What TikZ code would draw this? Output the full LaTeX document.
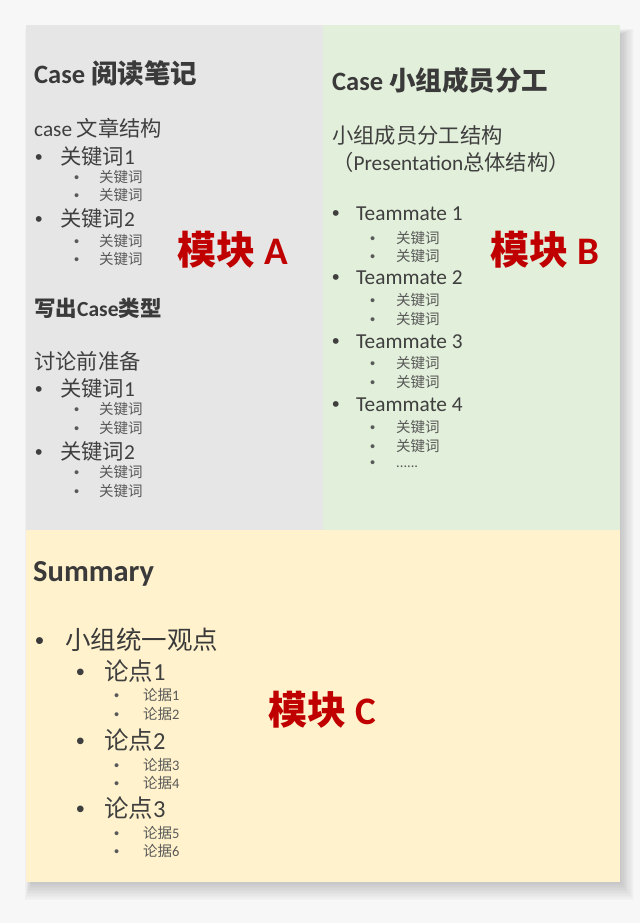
\documentclass[tikz,border=0pt]{standalone}
\usepackage{fontspec}
\setmainfont{Noto Sans CJK SC}
\newfontfamily\carl{Carlito}
\newfontfamily\arl{Liberation Sans}
\definecolor{bgc}{HTML}{F7F7F7}
\definecolor{grayp}{HTML}{E7E6E6}
\definecolor{greenp}{HTML}{E2EFDA}
\definecolor{yellowp}{HTML}{FFF2CC}
\definecolor{headc}{HTML}{3A3A3A}
\definecolor{txtc}{HTML}{3F3F3F}
\definecolor{subc}{HTML}{595959}
\definecolor{redc}{HTML}{C00000}
\tikzset{
  txt/.style={anchor=west, inner sep=0pt, text=txtc},
  hone/.style={txt, text=headc, font=\bfseries\fontsize{26.5}{28}\selectfont},
  htwo/.style={txt, text=headc, font=\bfseries\fontsize{21.5}{24}\selectfont},
  lone/.style={txt, font=\fontsize{21.3}{24}\selectfont},
  ltwo/.style={txt, text=subc, font=\fontsize{14.5}{16}\selectfont},
  cone/.style={txt, text=headc, font=\fontsize{25.5}{28}\selectfont},
  ctwo/.style={txt, font=\fontsize{24.5}{27}\selectfont},
  cthree/.style={txt, text=subc, font=\fontsize{14.5}{16}\selectfont},
  module/.style={txt, text=redc, font=\bfseries\fontsize{39}{42}\selectfont},
}
\newcommand{\bl}[2]{\makebox[#1][l]{\arl\textbullet}#2}
\begin{document}
\begin{tikzpicture}[x=1pt,y=-1pt]
\useasboundingbox (0,0) rectangle (640,923);
\fill[bgc] (0,0) rectangle (640,923);
% shadow
\foreach \i in {1,...,12}{
  \fill[black,opacity=0.014] (26+6-\i*0.6, 25+10-\i*0.5) rectangle (620+\i*1.2, 882+\i*1.5);
}
% panels
\fill[grayp] (26,25) rectangle (323,530);
\fill[greenp] (323,25) rectangle (620,530);
\fill[yellowp] (26,530) rectangle (620,882);

% Panel A
\node[hone] (a0) at (34,73) {{\carl Case} 阅读笔记};
\node[lone] (a1) at (34,128) {{\carl case} 文章结构};
\node[lone] (a2) at (35,156) {\bl{25pt}{关键词{\carl 1}}};
\node[ltwo] (a3) at (74,177) {\bl{25pt}{关键词}};
\node[ltwo] (a4) at (74,195) {\bl{25pt}{关键词}};
\node[lone] (a5) at (35,218) {\bl{25pt}{关键词{\carl 2}}};
\node[ltwo] (a6) at (74,241) {\bl{25pt}{关键词}};
\node[ltwo] (a7) at (74,259) {\bl{25pt}{关键词}};
\node[htwo] (a8) at (34,308) {写出{\carl Case}类型};
\node[lone] (a9) at (34,361) {讨论前准备};
\node[lone] (a10) at (35,388) {\bl{25pt}{关键词{\carl 1}}};
\node[ltwo] (a11) at (74,409) {\bl{25pt}{关键词}};
\node[ltwo] (a12) at (74,428) {\bl{25pt}{关键词}};
\node[lone] (a13) at (35,451) {\bl{25pt}{关键词{\carl 2}}};
\node[ltwo] (a14) at (74,472) {\bl{25pt}{关键词}};
\node[ltwo] (a15) at (74,491) {\bl{25pt}{关键词}};
\node[module] (ma) at (177,250) {模块 {\carl A}};

% Panel B
\node[hone] (b0) at (332,80) {{\carl Case} 小组成员分工};
\node[lone] (b1) at (332,135) {小组成员分工结构};
\node[lone] (b2) at (332,162) {（{\carl Presentation}总体结构）};
\node[lone] (b3) at (332,214) {\bl{24pt}{\carl Teammate 1}};
\node[ltwo] (b4) at (370,238) {\bl{26pt}{关键词}};
\node[ltwo] (b5) at (370,256) {\bl{26pt}{关键词}};
\node[lone] (b6) at (332,278) {\bl{24pt}{\carl Teammate 2}};
\node[ltwo] (b7) at (370,300) {\bl{26pt}{关键词}};
\node[ltwo] (b8) at (370,319) {\bl{26pt}{关键词}};
\node[lone] (b9) at (332,342) {\bl{24pt}{\carl Teammate 3}};
\node[ltwo] (b10) at (370,363) {\bl{26pt}{关键词}};
\node[ltwo] (b11) at (370,382) {\bl{26pt}{关键词}};
\node[lone] (b12) at (332,405) {\bl{24pt}{\carl Teammate 4}};
\node[ltwo] (b13) at (370,427) {\bl{26pt}{关键词}};
\node[ltwo] (b14) at (370,446) {\bl{26pt}{关键词}};
\node[ltwo] (b15) at (370,464) {\bl{26pt}{\carl ......}};
\node[module] (mb) at (490,250) {模块 {\carl B}};

% Panel C
\node[hone, font=\bfseries\fontsize{30.5}{32}\selectfont\carl] (c0) at (33,574) {Summary};
\node[cone] (c1) at (35,640) {\bl{30pt}{小组统一观点}};
\node[ctwo] (c2) at (76,671) {\bl{28pt}{论点{\carl 1}}};
\node[cthree] (c3) at (114,695) {\bl{29pt}{论据{\carl 1}}};
\node[cthree] (c4) at (114,714) {\bl{29pt}{论据{\carl 2}}};
\node[ctwo] (c5) at (76,740) {\bl{28pt}{论点{\carl 2}}};
\node[cthree] (c6) at (114,765) {\bl{29pt}{论据{\carl 3}}};
\node[cthree] (c7) at (114,783) {\bl{29pt}{论据{\carl 4}}};
\node[ctwo] (c8) at (76,808) {\bl{28pt}{论点{\carl 3}}};
\node[cthree] (c9) at (114,833) {\bl{29pt}{论据{\carl 5}}};
\node[cthree] (c10) at (114,851) {\bl{29pt}{论据{\carl 6}}};
\node[module] (mc) at (268,710) {模块 {\carl C}};
\end{tikzpicture}
\end{document}
